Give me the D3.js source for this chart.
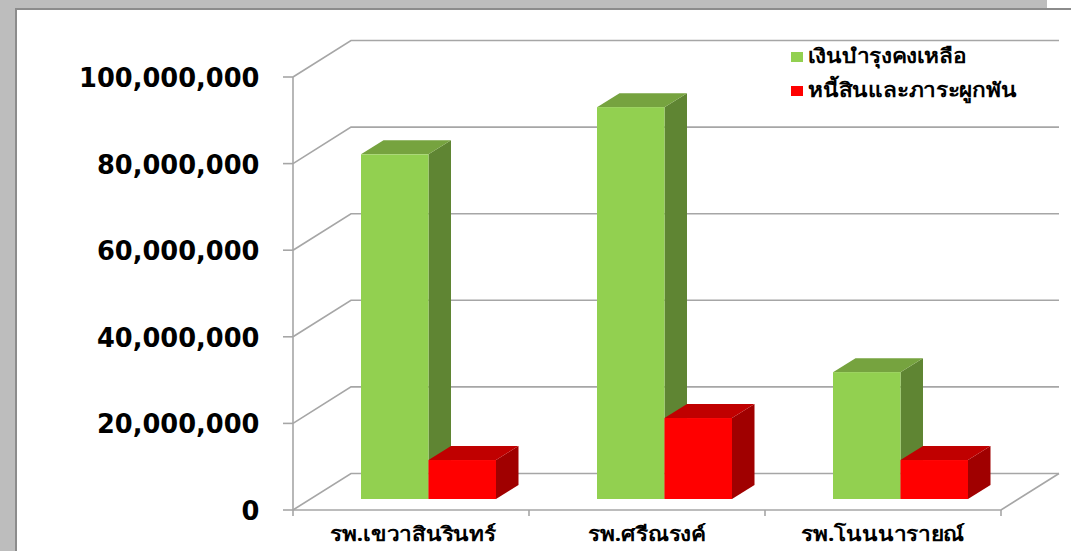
<!DOCTYPE html>
<html><head><meta charset="utf-8">
<script src="https://cdn.jsdelivr.net/npm/d3@7"></script>
<style>html,body{margin:0;padding:0;background:#fff;overflow:hidden}svg{display:block}</style></head>
<body><svg id="c" width="1071" height="551"></svg>
<script>
const categories = ["รพ.เขวาสินรินทร์","รพ.ศรีณรงค์","รพ.โนนนารายณ์"];
const seriesNames = ["เงินบำรุงคงเหลือ","หนี้สินและภาระผูกพัน"];
const greenValues = [79600000,90500000,29300000];
const redValues = [9000000,18700000,9000000];
const tickValues = [0,20000000,40000000,60000000,80000000,100000000];
const faceColors = [["#92d050","#76a33f","#5f8533"],["#ff0000","#c00000","#a00000"]];

const svg = d3.select("#c");
// page frame
svg.append("rect").attr("width",1071).attr("height",551).attr("fill","#bdbdbd");
svg.append("rect").attr("x",1047).attr("y",0).attr("width",24).attr("height",9).attr("fill","#fff");
svg.append("rect").attr("x",15).attr("y",8).attr("width",1056).attr("height",543).attr("fill","#8c8c8c");
svg.append("rect").attr("x",17).attr("y",10).attr("width",1054).attr("height",541).attr("fill","#fff");

const x = d3.scaleBand().domain(categories).range([293,1001]);
const y = d3.scaleLinear().domain([0,100000000]).range([510,77]);
const wallDx = 58, wallDy = -36.5;
const grid = "#a6a6a6";
const g = svg.append("g").attr("fill","none").attr("stroke",grid).attr("stroke-width",1.6);
const line = d3.line();
// back wall gridlines and side-wall diagonals
tickValues.forEach(t=>{
  const p = y(t);
  g.append("path").attr("d",line([[293,p],[293+wallDx,p+wallDy],[1059,p+wallDy]]));
  g.append("path").attr("d",line([[283,p],[293,p]]));
});
g.append("path").attr("d",line([[293,y(0)],[293,y(100000000)]]));
g.append("path").attr("d",line([[293,510],[1001,510],[1059,510+wallDy]]));
[...categories.map(c=>x(c)),1001].forEach(v=>g.append("path").attr("d",line([[v,510],[v,516]])));

// 3D bars
const depthDx = 22.5, depthDy = -14, frontOffsetY = -11;
const barW = 67.5;
const yb = v => y(v)+frontOffsetY;
const base = y(0)+frontOffsetY;
function bar(left,v,cols){
  const t = yb(v), r = left+barW;
  const b = svg.append("g");
  b.append("path").attr("fill",cols[2]).attr("d",line([[r,t],[r+depthDx,t+depthDy],[r+depthDx,base+depthDy],[r,base]])+"Z");
  b.append("path").attr("fill",cols[1]).attr("d",line([[left,t],[left+depthDx,t+depthDy],[r+depthDx,t+depthDy],[r,t]])+"Z");
  b.append("rect").attr("fill",cols[0]).attr("x",left).attr("y",t).attr("width",barW).attr("height",base-t);
}
categories.forEach((c,i)=>{
  const l = x(c)+68;
  bar(l,greenValues[i],faceColors[0]);
  bar(l+barW,redValues[i],faceColors[1]);
});

// axis labels
const fmt = d3.format(",");
svg.append("g").selectAll("text").data(tickValues).join("text")
  .attr("transform",d=>`translate(259.5,${y(d)+10}) scale(0.97,1)`).attr("text-anchor","end")
  .attr("font-family","DejaVu Sans").attr("font-weight","bold").attr("font-size",26.5).attr("fill","#000")
  .text(d=>fmt(d));
const thaiFont = "'Noto Sans','DejaVu Sans',sans-serif";
const stretch = 1.13;
svg.append("g").selectAll("text").data(categories).join("text")
  .attr("transform",c=>`translate(${x(c)+x.bandwidth()/2+(c===categories[0]?2:0)},541) scale(${stretch},1)`)
  .attr("text-anchor","middle")
  .attr("font-family",thaiFont).attr("font-weight","bold").attr("font-size",20).attr("fill","#000")
  .text(c=>c);

// legend
const ly = [56,90];
seriesNames.forEach((n,i)=>{
  svg.append("rect").attr("x",791).attr("y",ly[i]-4).attr("width",12).attr("height",10).attr("fill",faceColors[i][0]);
  svg.append("text").attr("transform",`translate(808,${ly[i]+7}) scale(${stretch},1)`).attr("font-family",thaiFont)
    .attr("font-weight","bold").attr("font-size",20).attr("fill","#000").text(n);
});
</script></body></html>
